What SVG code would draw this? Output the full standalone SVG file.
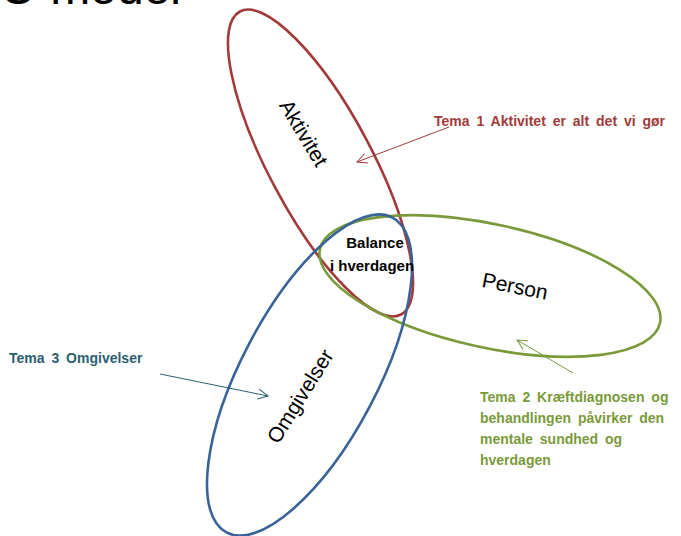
<svg xmlns="http://www.w3.org/2000/svg" width="681" height="536" viewBox="0 0 681 536">
  <style>
    .ell { fill: none; stroke-width: 2.6; }
    .lbl { font-family: "Liberation Sans", Arial, sans-serif; font-size: 21px; fill: #000; }
    .bal { font-family: "Liberation Sans", Arial, sans-serif; font-size: 15px; font-weight: bold; fill: #000; text-anchor: middle; }
    .note { font-family: "Liberation Sans", Arial, sans-serif; font-size: 14px; font-weight: bold; word-spacing: 3px; }
    .conn { fill: none; stroke-width: 1; }
    .title { font-family: "Liberation Sans", Arial, sans-serif; font-size: 48px; fill: #000; }
  </style>
  <defs>
    <marker id="arrRed" markerWidth="12" markerHeight="12" refX="11" refY="6" orient="auto" markerUnits="userSpaceOnUse">
      <path d="M1,1 L11,6 L1,11" fill="none" stroke="#A23A3A" stroke-width="1"/>
    </marker>
    <marker id="arrTeal" markerWidth="12" markerHeight="12" refX="11" refY="6" orient="auto" markerUnits="userSpaceOnUse">
      <path d="M1,1 L11,6 L1,11" fill="none" stroke="#2B6070" stroke-width="1"/>
    </marker>
    <marker id="arrGreen" markerWidth="12" markerHeight="12" refX="11" refY="6" orient="auto" markerUnits="userSpaceOnUse">
      <path d="M1,1 L11,6 L1,11" fill="none" stroke="#7A9A3A" stroke-width="1"/>
    </marker>
  </defs>
  <rect width="681" height="536" fill="#fff"/>

  <text class="title" x="181" y="4" text-anchor="end">PEO model</text>

  <g id="node-aktivitet">
    <ellipse class="ell" stroke="#A23A3A" cx="320.5" cy="163" rx="171.6" ry="51.6" transform="rotate(62 320.5 163)"/>
    <text class="lbl" x="0" y="0" text-anchor="middle" dominant-baseline="central" transform="translate(304 133) rotate(59)">Aktivitet</text>
  </g>

  <g id="node-person">
    <ellipse class="ell" stroke="#7A9A3A" cx="490" cy="286" rx="174" ry="61.7" transform="rotate(12.3 490 286)"/>
    <text class="lbl" x="0" y="0" text-anchor="middle" dominant-baseline="central" transform="translate(515 286) rotate(11.3)">Person</text>
  </g>

  <g id="node-omgivelser">
    <ellipse class="ell" stroke="#3A6398" cx="309.5" cy="375" rx="178" ry="68" transform="rotate(-62.2 309.5 375)"/>
    <text class="lbl" x="0" y="0" text-anchor="middle" dominant-baseline="central" transform="translate(300 396) rotate(-58)">Omgivelser</text>
  </g>

  <g id="node-balance">
    <text class="bal" x="375" y="248">Balance</text>
    <text class="bal" x="372" y="270.5">i hverdagen</text>
  </g>

  <g id="note-tema1">
    <text class="note" fill="#A23A3A" x="434" y="126">Tema 1 Aktivitet er alt det vi gør</text>
  </g>
  <g id="note-tema3">
    <text class="note" fill="#2B6070" x="9" y="363">Tema 3 Omgivelser</text>
  </g>
  <g id="note-tema2">
    <text class="note" fill="#7A9A3A" x="480" y="401.5">Tema 2 Kræftdiagnosen og</text>
    <text class="note" fill="#7A9A3A" x="480" y="423">behandlingen påvirker den</text>
    <text class="note" fill="#7A9A3A" x="480" y="443.5">mentale sundhed og</text>
    <text class="note" fill="#7A9A3A" x="480" y="464.5">hverdagen</text>
  </g>

  <g id="connectors">
    <line class="conn" stroke="#A23A3A" x1="449" y1="127" x2="357" y2="162" marker-end="url(#arrRed)"/>
    <line class="conn" stroke="#2B6070" x1="160" y1="374" x2="268" y2="396" marker-end="url(#arrTeal)"/>
    <line class="conn" stroke="#7A9A3A" x1="573" y1="373" x2="517" y2="340" marker-end="url(#arrGreen)"/>
  </g>
</svg>
